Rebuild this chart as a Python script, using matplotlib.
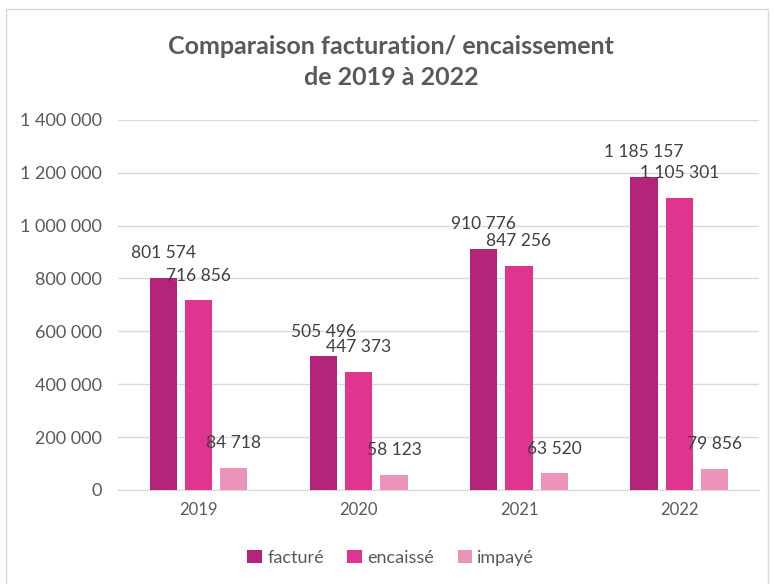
import matplotlib
matplotlib.use("Agg")
import matplotlib.pyplot as plt
import numpy as np
from matplotlib.patches import Rectangle
from matplotlib.ticker import FuncFormatter

plt.rcParams['font.family'] = ['Lato', 'DejaVu Sans']

years = ["2019", "2020", "2021", "2022"]
facture = [801574, 505496, 910776, 1185157]
encaisse = [716856, 447373, 847256, 1105301]
impaye = [84718, 58123, 63520, 79856]
series_names = ["facturé", "encaissé", "impayé"]
colors = ["#B5247B", "#E0358F", "#EC93B9"]

def fmt(v):
    return f"{int(v):,}".replace(",", " ")

fig = plt.figure(figsize=(7.74, 5.84), dpi=100)
fig.patch.set_facecolor("white")
fig.add_artist(Rectangle((0.008, -0.01), 0.984, 0.995, transform=fig.transFigure,
                         fill=False, edgecolor="#D9D9D9", linewidth=1.0))

ax = fig.add_axes([0.153, 0.161, 0.828, 0.634])
x = np.arange(len(years))
width = 0.17
step = 0.22
text_color = "#595959"

for i, (vals, name, c) in enumerate(zip([facture, encaisse, impaye], series_names, colors)):
    pos = x + (i - 1) * step
    bars = ax.bar(pos, vals, width=width, color=c, label=name, zorder=3)
    for b, v in zip(bars, vals):
        ax.annotate(fmt(v), (b.get_x() + b.get_width() / 2, v), xytext=(0, 12),
                    textcoords="offset points", ha="center", va="bottom",
                    fontsize=12.5, color="#404040", zorder=4)

ax.set_xlim(-0.5, 3.5)
ax.set_ylim(0, 1400000)
ax.set_yticks(np.arange(0, 1400001, 200000))
ax.yaxis.set_major_formatter(FuncFormatter(lambda v, p: fmt(v)))
ax.set_xticks(x)
ax.set_xticklabels(years)
ax.tick_params(axis="both", length=0, labelsize=12, colors=text_color)
ax.tick_params(axis="y", labelsize=13, pad=12)
ax.tick_params(axis="x", pad=9)
ax.grid(axis="y", color="#D9D9D9", linewidth=1.0, zorder=0)
for s in ["top", "right", "left"]:
    ax.spines[s].set_visible(False)
ax.spines["bottom"].set_color("#D9D9D9")

fig.text(0.505, 0.92, "Comparaison facturation/ encaissement", ha="center", va="center",
         fontsize=18, fontweight="bold", color=text_color)
fig.text(0.505, 0.867, "de 2019 à 2022", ha="center", va="center",
         fontsize=18, fontweight="bold", color=text_color)

fig.legend(loc="center", bbox_to_anchor=(0.505, 0.045), ncol=3, frameon=False,
           fontsize=13, handlelength=0.8, handleheight=0.8, handletextpad=0.3,
           columnspacing=1.3, labelcolor=text_color)

fig.savefig("out.png", dpi=100, facecolor="white")
